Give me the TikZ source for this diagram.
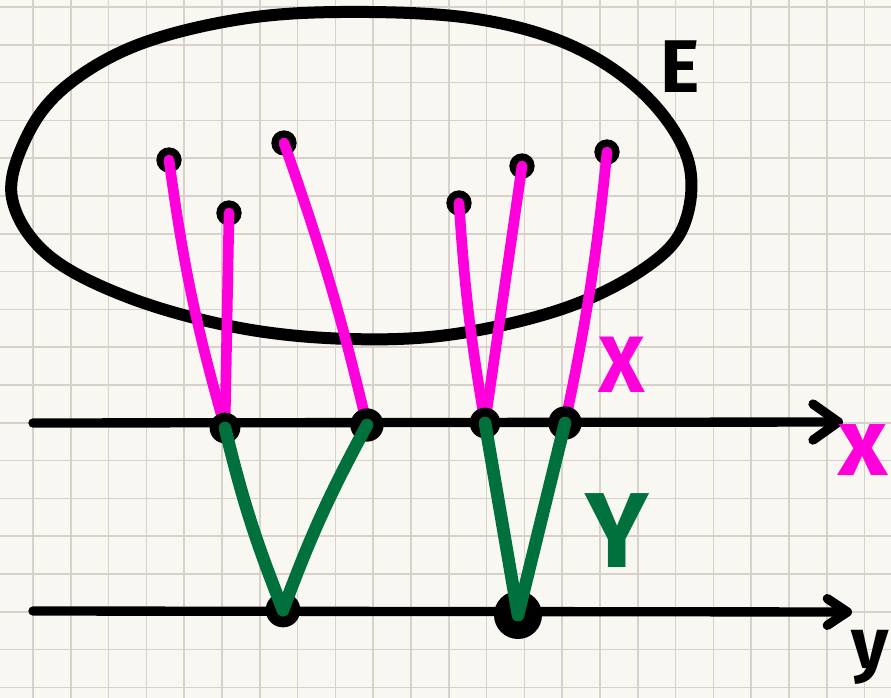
\documentclass[tikz,border=0pt]{standalone}
\usepackage{fontspec}
\usepackage{tikz}
\usetikzlibrary{arrows.meta}
\newfontfamily\handfont{Fira Sans}
\definecolor{paper}{HTML}{F9F7F2}
\definecolor{gridgray}{HTML}{D6D2CB}
\definecolor{penmagenta}{HTML}{FF00DC}
\definecolor{pengreen}{HTML}{00703C}

\tikzset{
  dotsmall/.style={circle, fill=black, inner sep=0pt, minimum size=19pt},
  dotaxis/.style={circle, fill=black, inner sep=0pt, minimum size=23pt},
  mapx/.style={penmagenta, line width=8pt, line cap=round},
  mapy/.style={pengreen, line width=9.5pt, line cap=round},
  axisline/.style={black, line width=7pt, line cap=round},
  lbl/.style={font=\handfont\bfseries, inner sep=0pt}
}

\begin{document}
\begin{tikzpicture}[x=0.75pt, y=-0.75pt]

  % ── Paper and grid ────────────────────────────────────────────
  \fill[paper] (0,0) rectangle (891,698);
  \useasboundingbox (0,0) rectangle (891,698);
  \foreach \k in {-1,...,23}
    \draw[gridgray, line width=1.3pt] ({33+37.8*\k},0) -- ({33+37.8*\k},698);
  \foreach \k in {0,...,18}
    \draw[gridgray, line width=1.3pt] (0,{7+37.8*\k}) -- (891,{7+37.8*\k});

  % ── The set E ─────────────────────────────────────────────────
  \draw[black, line width=9pt] plot[smooth cycle, tension=0.6] coordinates {
    (12,198) (26,138) (64,88) (135,46) (235,20) (340,12) (470,18)
    (570,45) (645,95) (688,160) (684,225) (645,268) (565,308)
    (455,334) (350,339) (240,328) (130,298) (48,255)};
  \node[lbl, font=\handfont\bfseries\fontsize{56}{56}\selectfont] (elab) at (680,67) {E};

  % ── Points in E ───────────────────────────────────────────────
  \node[dotsmall] (e1) at (169,160) {};
  \node[dotsmall] (e2) at (229,213) {};
  \node[dotsmall] (e3) at (284,143) {};
  \node[dotsmall] (e4) at (459,203) {};
  \node[dotsmall] (e5) at (522,166) {};
  \node[dotsmall] (e6) at (607,152) {};

  \coordinate (a1) at (225,428);
  \coordinate (a2) at (367,425);
  \coordinate (a3) at (485,423);
  \coordinate (a4) at (565,423);
  \coordinate (b1) at (283,610);
  \coordinate (b2) at (518,615);

  % ── Map X (magenta) ───────────────────────────────────────────
  \draw[mapx] (e1.center) to[bend right=4] (a1);
  \draw[mapx] (e2.center) -- (a1);
  \draw[mapx] (e3.center) to[bend left=3] (a2);
  \draw[mapx] (e4.center) to[bend right=3] (a3);
  \draw[mapx] (e5.center) -- (a3);
  \draw[mapx] (e6.center) to[bend left=3] (a4);
  \node[lbl, text=penmagenta, font=\handfont\bfseries\fontsize{60}{60}\selectfont] (Xlab) at (622,365) {X};

  % ── Axes x and y ──────────────────────────────────────────────
  \coordinate (xs) at (33,423);
  \coordinate (xe) at (843,422);
  \coordinate (ys) at (33,611);
  \coordinate (ye) at (852,612);
  \draw[axisline, -{Straight Barb[length=19pt, width=27pt, round]}] (xs) -- (xe);
  \draw[axisline, -{Straight Barb[length=15pt, width=20pt, round]}] (ys) -- (ye);
  \node[lbl, text=penmagenta, font=\handfont\bfseries\fontsize{72}{72}\selectfont] (xlab) at (863,450) {x};
  \node[lbl, font=\handfont\bfseries\fontsize{54}{54}\selectfont] (ylab) at (870,657) {y};

  % ── Dots on the axes ──────────────────────────────────────────
  \node[dotaxis] (da1) at (a1) {};
  \node[dotaxis, minimum size=25pt] (da2) at (a2) {};
  \node[dotaxis] (da3) at (a3) {};
  \node[dotaxis, minimum size=25pt] (da4) at (a4) {};
  \node[dotaxis, minimum size=26pt] (db1) at (b1) {};
  \node[dotaxis, minimum size=36pt] (db2) at (b2) {};

  % ── Map Y (green) ─────────────────────────────────────────────
  \draw[mapy] (a1) to[bend right=4] (b1);
  \draw[mapy] (a2) to[bend right=4] (b1);
  \draw[mapy] (a3) -- (b2);
  \draw[mapy] (a4) -- (b2);
  \node[lbl, text=pengreen, font=\handfont\bfseries\fontsize{80}{80}\selectfont] (Ylab) at (617,531) {Y};

\end{tikzpicture}
\end{document}
